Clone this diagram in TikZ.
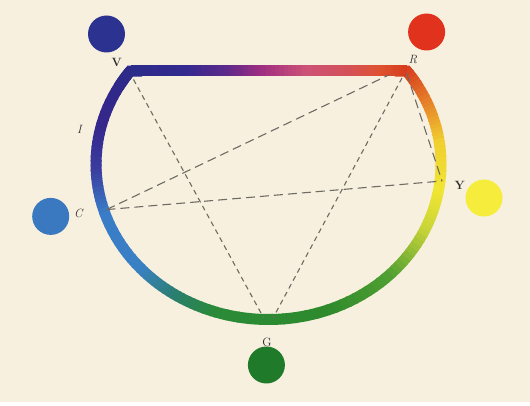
\documentclass[tikz,border=0pt]{standalone}
\usetikzlibrary{calc}
\definecolor{bg}{HTML}{F7F0DF}
\definecolor{dashgray}{HTML}{6E6B64}
\definecolor{labgray}{HTML}{2E2E2E}
% arc colour stops
\definecolor{a0}{HTML}{2D2A88}
\definecolor{a1}{HTML}{35278C}
\definecolor{a2}{HTML}{3A3C9E}
\definecolor{a3}{HTML}{3A7CC8}
\definecolor{a4}{HTML}{3A80C4}
\definecolor{a5}{HTML}{2A7F6A}
\definecolor{a6}{HTML}{2A8A38}
\definecolor{a7}{HTML}{2E8A2C}
\definecolor{a8}{HTML}{52A032}
\definecolor{a9}{HTML}{C8D438}
\definecolor{a10}{HTML}{F0E632}
\definecolor{a11}{HTML}{F0D030}
\definecolor{a12}{HTML}{E8882A}
\definecolor{a13}{HTML}{D84020}
% chord colour stops
\definecolor{k0}{HTML}{2C2C8A}
\definecolor{k1}{HTML}{34298E}
\definecolor{k2}{HTML}{5E2A8A}
\definecolor{k3}{HTML}{A02E80}
\definecolor{k4}{HTML}{CC5278}
\definecolor{k5}{HTML}{D4505A}
\definecolor{k6}{HTML}{DE5230}
\definecolor{k7}{HTML}{D63C1C}
% dot colours
\definecolor{dotV}{HTML}{2C3290}
\definecolor{dotR}{HTML}{E0321C}
\definecolor{dotC}{HTML}{3A78C0}
\definecolor{dotY}{HTML}{F6EC3C}
\definecolor{dotG}{HTML}{1F7A2A}
\begin{document}
\begin{tikzpicture}[x=1pt,y=1pt,
  arcstroke/.style={line width=11pt},
  dashshort/.style={draw=dashgray, line width=1.1pt, dash pattern=on 5pt off 4pt},
  dashlong/.style={draw=dashgray, line width=1.1pt, dash pattern=on 9pt off 5pt},
  dot/.style={circle, inner sep=0pt, minimum size=37pt},
  lab/.style={font=\fontsize{12}{14}\selectfont, text=labgray, inner sep=0pt}]
\fill[bg] (0,0) rectangle (530,405);
\fill[white] (0,0) rectangle (530,3);
\useasboundingbox (0,0) rectangle (530,405);
\coordinate (O) at (268.5,241);
\coordinate (Vc) at (130.5,334);
\coordinate (Rc) at (406.5,334);
% corner pieces (mitred)
\draw[arcstroke, a0, line join=miter] (O) ++(150:172.5pt and 155.5pt)
  arc[start angle=150, end angle=143.3, x radius=172.5pt, y radius=155.5pt] -- ++(12,0);
\draw[arcstroke, a13, line join=miter] (O) ++(30:172.5pt and 155.5pt)
  arc[start angle=30, end angle=36.7, x radius=172.5pt, y radius=155.5pt] -- ++(-12,0);
% coloured arc
\foreach \ta/\tb/\ca/\cb in {143.3/165/a0/a1, 165/182/a1/a2, 182/198/a2/a3,
  198/222/a3/a4, 222/238/a4/a5, 238/252/a5/a6, 252/290/a6/a7, 290/315/a7/a8,
  315/335/a8/a9, 335/350/a9/a10, 350/368/a10/a11, 368/382/a11/a12, 382/396.7/a12/a13} {
  \foreach \i in {0,...,9} {
    \pgfmathsetmacro\s{\ta+(\tb-\ta)*\i/10}
    \pgfmathsetmacro\e{min(\ta+(\tb-\ta)*(\i+1)/10+0.5,396.7)}
    \pgfmathtruncatemacro\p{\i*10+5}
    \draw[arcstroke, \cb!\p!\ca] (O) ++(\s:172.5pt and 155.5pt)
      arc[start angle=\s, end angle=\e, x radius=172.5pt, y radius=155.5pt];
  }
}
% coloured chord
\foreach \xa/\xb/\ca/\cb in {130.5/185/k0/k1, 185/228/k1/k2, 228/262/k2/k3,
  262/305/k3/k4, 305/345/k4/k5, 345/380/k5/k6, 380/406.5/k6/k7} {
  \foreach \i in {0,...,9} {
    \pgfmathsetmacro\s{\xa+(\xb-\xa)*\i/10}
    \pgfmathsetmacro\e{min(\xa+(\xb-\xa)*(\i+1)/10+0.6,406.5)}
    \pgfmathtruncatemacro\p{\i*10+5}
    \fill[\cb!\p!\ca] (\s,328.5) rectangle (\e,339.5);
  }
}
% points for dashed lines
\coordinate (Vin) at (133.5,325.5);
\coordinate (Gl) at (263.7,87);
\coordinate (Rin) at (402,327);
\coordinate (Gr) at (273,87);
\coordinate (Cp) at (106.5,195.4);
\coordinate (Rch) at (388.8,330);
\coordinate (Yp) at (442,224);
\coordinate (Rtop) at (406.5,332);
\draw[dashshort] (Vin) -- (Gl);
\draw[dashshort] (Rin) -- (Gr);
\draw[dashlong] (Cp) -- (Rch);
\draw[dashlong] (Cp) -- (Yp);
\draw[dashlong] (Rtop) -- (Yp);
% dots
\node[dot, fill=dotV] (dV) at (106.5,371) {};
\node[dot, fill=dotR] (dR) at (426.6,373) {};
\node[dot, fill=dotC] (dC) at (50.7,188.6) {};
\node[dot, fill=dotY] (dY) at (484,207) {};
\node[dot, fill=dotG] (dG) at (266.4,40) {};
% labels
\node[lab] (lV) at (116.6,342.5) {\bfseries V};
\node[lab] (lR) at (413,345) {\itshape R};
\node[lab] (lI) at (79.4,275.5) {\itshape I};
\node[lab] (lC) at (78.4,191.3) {\itshape C};
\node[lab] (lY) at (459.8,220) {\bfseries Y};
\node[lab] (lG) at (267,63) {G};
\end{tikzpicture}
\end{document}
